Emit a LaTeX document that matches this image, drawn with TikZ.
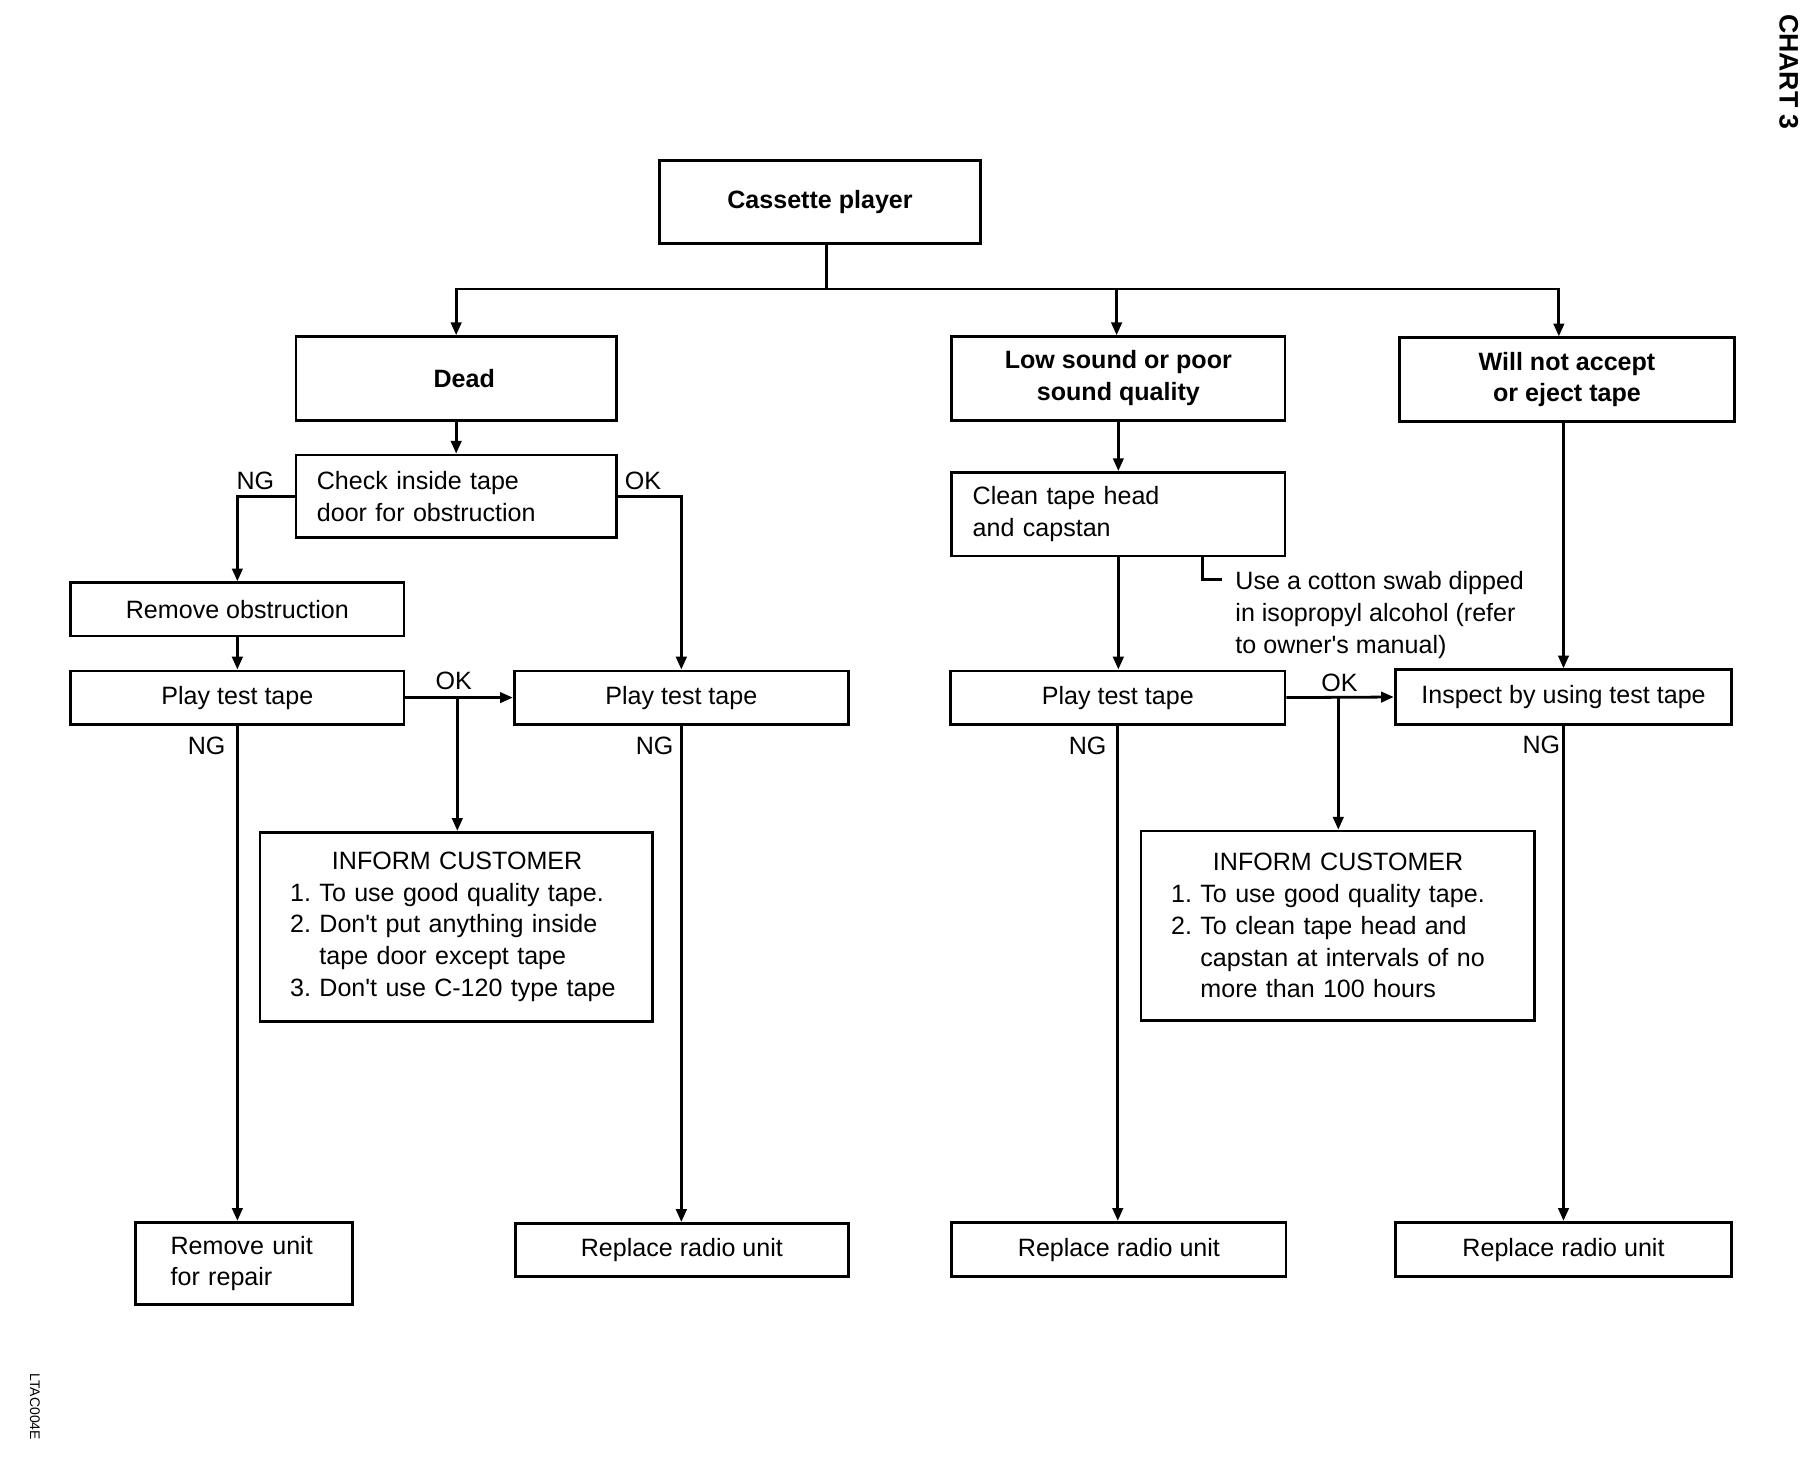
\documentclass[tikz,border=0pt]{standalone}
\usepackage{fontspec}
\setmainfont{Liberation Sans}[Ligatures=TeXOff]
\usetikzlibrary{arrows.meta}
\newcommand{\fs}{\fontsize{10.8}{13.7}\selectfont}
\begin{document}
\frenchspacing
\begin{tikzpicture}[x=0.5pt,y=-0.5pt,
  box/.style={draw, line width=1.2pt, inner sep=0pt, align=center, font=\fs},
  titlebox/.style={box, font=\fs\bfseries},
  lbox/.style={box, align=left},
  arr/.style={line width=1.2pt, -{Triangle[length=5.5pt,width=4.5pt]}},
  ln/.style={line width=1.2pt},
  lab/.style={font=\fs, inner sep=0pt}]
\useasboundingbox (0,0) rectangle (1568,1268.7);

% boxes
\node[titlebox, minimum width=138.5pt, minimum height=36pt] (cassette) at (706.5,174) {Cassette player};
\node[titlebox, minimum width=138pt, minimum height=36pt] (dead) at (393,326) {\hspace*{7pt}Dead};
\node[titlebox, minimum width=143.5pt, minimum height=36pt] (low) at (963.5,326) {Low sound or poor\\sound quality};
\node[titlebox, minimum width=144pt, minimum height=36pt] (will) at (1350,327) {Will not accept\\or eject tape};

\node[lbox, minimum width=138pt, minimum height=35.5pt, inner xsep=9pt, text width=120pt] (check) at (393,427.5) {Check inside tape\\door for obstruction};
\node[box, minimum width=143.5pt, minimum height=23pt] (remobs) at (204.5,525) {Remove obstruction};
\node[box, minimum width=143.5pt, minimum height=23pt] (play1) at (204.5,601) {Play test tape};
\node[box, minimum width=144pt, minimum height=23pt] (play2) at (587,601) {Play test tape};
\node[lbox, minimum width=169pt, minimum height=81.5pt, inner xsep=13pt, text width=143pt] (inform1) at (393,798.5)
  {\hspace*{18pt}INFORM CUSTOMER\\1. To use good quality tape.\\2. Don't put anything inside\\\phantom{2. }tape door except tape\\3. Don't use C-120 type tape};
\node[lbox, minimum width=93.5pt, minimum height=35.5pt, inner xsep=15pt, text width=63.5pt] (remunit) at (210.5,1088.5) {Remove unit\\for repair};
\node[box, minimum width=143.5pt, minimum height=23pt] (rep1) at (587.5,1077) {Replace radio unit};

\node[lbox, minimum width=143.5pt, minimum height=36pt, inner xsep=9pt, text width=125.5pt] (clean) at (963.5,443) {Clean tape head\\and capstan};
\node[box, minimum width=144pt, minimum height=23pt] (play3) at (963,601) {Play test tape};
\node[box, minimum width=145pt, minimum height=23.5pt] (inspect) at (1347,600.5) {Inspect by using test tape};
\node[lbox, minimum width=169.5pt, minimum height=81.5pt, inner xsep=13pt, text width=143.5pt] (inform2) at (1152.5,797.5)
  {\hspace*{18pt}INFORM CUSTOMER\\1. To use good quality tape.\\2. To clean tape head and\\\phantom{2. }capstan at intervals of no\\\phantom{2. }more than 100 hours};
\node[box, minimum width=144pt, minimum height=23.5pt] (rep2) at (964,1076.5) {Replace radio unit};
\node[box, minimum width=145pt, minimum height=23.5pt] (rep3) at (1347,1076.5) {Replace radio unit};

% note
\node[lab, anchor=west, align=left] (note) at (1064,530) {Use a cotton swab dipped\\in isopropyl alcohol (refer\\to owner's manual)};

% labels
\node[lab] (ng1) at (220,414) {NG};
\node[lab] (ok1l) at (554,414) {OK};
\node[lab] (ok2l) at (391,587) {OK};
\node[lab] (ng2) at (178,643) {NG};
\node[lab] (ng3) at (564,643) {NG};
\node[lab] (ok3l) at (1154,588) {OK};
\node[lab] (ng4) at (937,643) {NG};
\node[lab] (ng5) at (1328,642) {NG};

\node[rotate=-90, inner sep=0pt, font=\fontsize{11.5}{14}\selectfont\bfseries] (chart) at (1541,62) {CHART 3};
\node[rotate=-90, inner sep=0pt, font=\fontsize{6}{7}\selectfont] (code) at (30,1212) {LTAC004E};

% connectors
\coordinate (j) at (712,249);
\coordinate (bL) at (393,249);
\coordinate (bM) at (962,249);
\coordinate (bR) at (1343,249);
\draw[ln] (cassette.south -| j) -- (j);
\draw[arr] (j) -- (bL) -- (bL |- dead.north);
\draw[arr] (j) -- (bM) -- (bM |- low.north);
\draw[arr] (bM) -- (bR) -- (bR |- will.north);

\draw[arr] (dead.south) -- (dead.south |- check.north);
\draw[arr] (check.west) -| (remobs.north);
\draw[arr] (check.east) -| (play2.north);
\draw[arr] (remobs.south) -- (remobs.south |- play1.north);
\draw[arr] (play1.east) -- (play2.west);
\coordinate (ok1) at (394,601);
\draw[arr] (ok1) -- (ok1 |- inform1.north);
\draw[arr] (play1.south) -- (play1.south |- remunit.north);
\draw[arr] (play2.south) -- (play2.south |- rep1.north);

\draw[arr] (low.south) -- (low.south |- clean.north);
\draw[arr] (clean.south) -- (clean.south |- play3.north);
\coordinate (nb) at (1036,499);
\coordinate (nbe) at (1053,499);
\draw[ln] (clean.south -| nb) -- (nb) -- (nbe);
\draw[arr] (play3.east) -- (inspect.west);
\coordinate (ok2) at (1153,601);
\draw[arr] (ok2) -- (ok2 |- inform2.north);
\draw[arr] (will.south -| inspect.north) -- (inspect.north);
\draw[arr] (play3.south) -- (play3.south |- rep2.north);
\draw[arr] (inspect.south) -- (inspect.south |- rep3.north);
\end{tikzpicture}
\end{document}
